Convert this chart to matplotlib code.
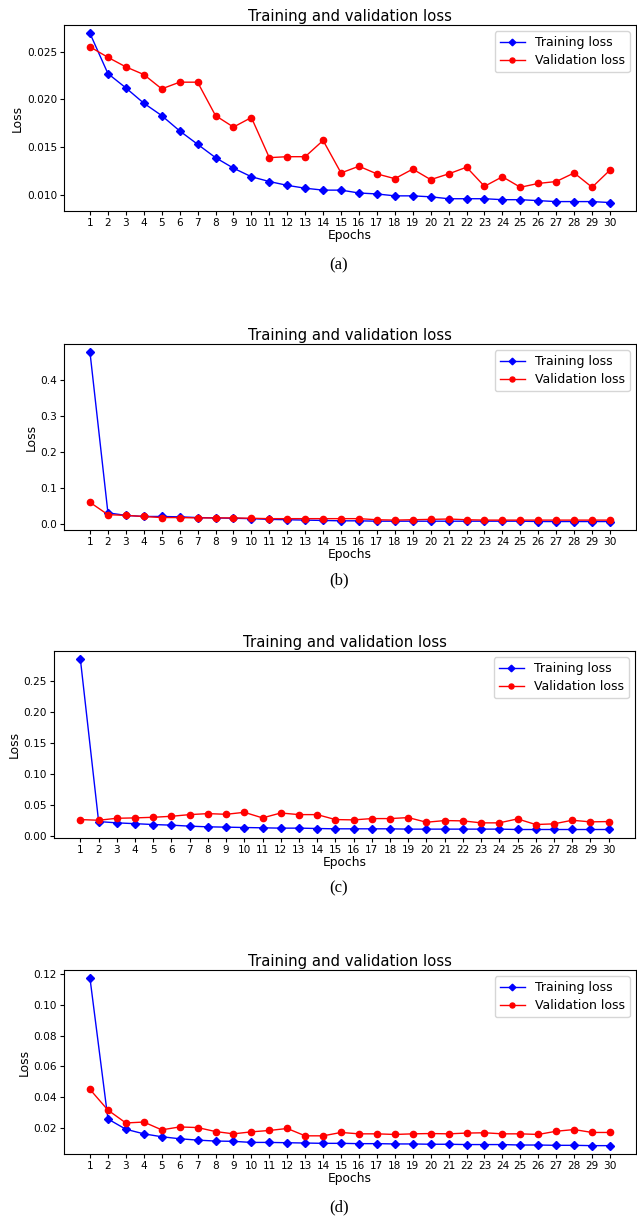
import matplotlib
matplotlib.use("Agg")
import matplotlib.pyplot as plt
from matplotlib.ticker import FormatStrFormatter, MultipleLocator

epochs = list(range(1, 31))

# (a)
train_a = [0.0269, 0.0227, 0.0212, 0.0196, 0.0183, 0.0167, 0.0153, 0.0139, 0.0128, 0.0119,
           0.0114, 0.0110, 0.0107, 0.0105, 0.0105, 0.0102, 0.0101, 0.0099, 0.0099, 0.0098,
           0.0096, 0.0096, 0.0096, 0.0095, 0.0095, 0.0094, 0.0093, 0.0093, 0.0093, 0.0092]
val_a = [0.0255, 0.0244, 0.0234, 0.0226, 0.0211, 0.0218, 0.0218, 0.0183, 0.0171, 0.0181,
         0.0139, 0.0140, 0.0140, 0.0157, 0.0123, 0.0130, 0.0122, 0.0117, 0.0127, 0.0116,
         0.0122, 0.0129, 0.0109, 0.0119, 0.0108, 0.0112, 0.0114, 0.0123, 0.0108, 0.0126]

# (b)
train_b = [0.475, 0.032, 0.025, 0.022, 0.022, 0.021, 0.019, 0.018, 0.017, 0.016,
           0.014, 0.013, 0.012, 0.011, 0.010, 0.010, 0.009, 0.009, 0.009, 0.009,
           0.009, 0.009, 0.009, 0.009, 0.009, 0.008, 0.008, 0.008, 0.008, 0.008]
val_b = [0.061, 0.027, 0.025, 0.022, 0.019, 0.019, 0.018, 0.018, 0.018, 0.017,
         0.016, 0.016, 0.016, 0.016, 0.016, 0.016, 0.013, 0.012, 0.013, 0.014,
         0.015, 0.013, 0.012, 0.012, 0.012, 0.012, 0.012, 0.012, 0.012, 0.012]

# (c)
train_c = [0.2846, 0.0234, 0.0213, 0.0200, 0.0186, 0.0176, 0.0160, 0.0149, 0.0144, 0.0138,
           0.0133, 0.0128, 0.0128, 0.0122, 0.0117, 0.0117, 0.0117, 0.0117, 0.0112, 0.0112,
           0.0112, 0.0112, 0.0112, 0.0112, 0.0106, 0.0106, 0.0106, 0.0106, 0.0106, 0.0106]
val_c = [0.0266, 0.0255, 0.0287, 0.0293, 0.0303, 0.0319, 0.0346, 0.0362, 0.0351, 0.0383,
         0.0293, 0.0372, 0.0346, 0.0346, 0.0266, 0.0261, 0.0282, 0.0282, 0.0298, 0.0223,
         0.0250, 0.0245, 0.0213, 0.0213, 0.0277, 0.0186, 0.0197, 0.0255, 0.0229, 0.0234]

# (d)
train_d = [0.1174, 0.0256, 0.0189, 0.0159, 0.0140, 0.0127, 0.0118, 0.0112, 0.0110, 0.0103,
           0.0103, 0.0101, 0.0099, 0.0097, 0.0097, 0.0095, 0.0095, 0.0093, 0.0093, 0.0091,
           0.0091, 0.0089, 0.0089, 0.0089, 0.0086, 0.0086, 0.0084, 0.0084, 0.0082, 0.0082]
val_d = [0.0449, 0.0314, 0.0230, 0.0236, 0.0185, 0.0204, 0.0200, 0.0174, 0.0159, 0.0172,
         0.0181, 0.0194, 0.0146, 0.0146, 0.0168, 0.0159, 0.0159, 0.0155, 0.0159, 0.0161,
         0.0159, 0.0164, 0.0166, 0.0159, 0.0159, 0.0155, 0.0176, 0.0187, 0.0168, 0.0168]

panels = [
    (train_a, val_a, "(a)", [64, 25, 636, 211], 265, "%.3f", 0.005),
    (train_b, val_b, "(b)", [64, 344, 636, 530], 580, "%.1f", 0.1),
    (train_c, val_c, "(c)", [54, 651, 635, 838], 888, "%.2f", 0.05),
    (train_d, val_d, "(d)", [64, 970, 636, 1154], 1207, "%.2f", 0.02),
]

W, H = 637, 1220
fig = plt.figure(figsize=(W / 100, H / 100), dpi=100)

for tr, va, cap, (x0, y0, x1, y1), cy, fmt, step in panels:
    ax = fig.add_axes([x0 / W, 1 - y1 / H, (x1 - x0) / W, (y1 - y0) / H])
    ax.plot(epochs, tr, 'b-', marker='D', markersize=4.2, linewidth=1.0, label='Training loss')
    ax.plot(epochs, va, 'r-', marker='o', markersize=4.5, linewidth=1.0, label='Validation loss')
    ax.set_title('Training and validation loss', fontsize=10.7, pad=3)
    ax.set_xlabel('Epochs', fontsize=8.8, labelpad=1)
    ax.set_ylabel('Loss', fontsize=8.8, labelpad=2)
    ax.set_xticks(epochs)
    ax.yaxis.set_major_locator(MultipleLocator(step))
    ax.yaxis.set_major_formatter(FormatStrFormatter(fmt))
    ax.tick_params(labelsize=7.6, length=3, pad=2)
    ax.legend(loc='upper right', fontsize=9, handlelength=2, borderpad=0.4,
              labelspacing=0.4, framealpha=0.8, markerscale=0.8)
    fig.text(339 / W, 1 - cy / H, cap, ha='center', va='center',
             family='Liberation Serif', fontsize=12)

fig.savefig('out.png', dpi=100)
